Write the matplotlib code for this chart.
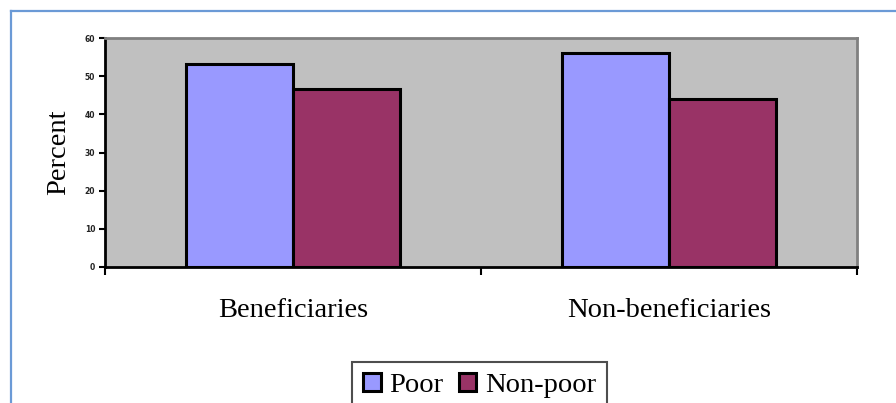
import matplotlib
matplotlib.use("Agg")
import matplotlib.pyplot as plt
from matplotlib.patches import Patch
from matplotlib.lines import Line2D
import numpy as np

categories = ["Beneficiaries", "Non-beneficiaries"]
series_names = ["Poor", "Non-poor"]
poor = [53.3, 56.0]
nonpoor = [46.7, 44.0]
yticks = [0, 10, 20, 30, 40, 50, 60]

colors = ["#9999FF", "#993366"]
W, H = 896, 403
fig = plt.figure(figsize=(W / 100, H / 100), dpi=100)
fig.patch.set_facecolor("white")

ax = fig.add_axes([105 / W, 1 - 267 / H, (857 - 105) / W, (267 - 38) / H])
ax.set_facecolor("#C0C0C0")

x = np.arange(len(categories))
bw = 1 / 3.5
ax.bar(x - bw / 2, poor, bw, color=colors[0], edgecolor="black", linewidth=2.2, zorder=3)
ax.bar(x + bw / 2, nonpoor, bw, color=colors[1], edgecolor="black", linewidth=2.2, zorder=3)

ax.set_xlim(-0.5, len(categories) - 0.5)
ax.set_ylim(0, 60)
ax.set_yticks(yticks)
ax.set_yticklabels([str(v) for v in yticks], fontsize=5.5, fontweight="bold",
                   family="DejaVu Sans", color="#222222")
ax.tick_params(axis="y", length=4, width=1.5, pad=3, direction="out")

ax.set_xticks(np.arange(len(categories) + 1) - 0.5)
ax.set_xticklabels([])
ax.tick_params(axis="x", which="major", length=6, width=1.5, direction="out")
ax.set_xticks(x, minor=True)
ax.set_xticklabels(categories, minor=True, fontsize=20.5, family="Liberation Serif")
ax.tick_params(axis="x", which="minor", length=0, pad=22)

for s in ["left", "bottom"]:
    ax.spines[s].set_color("black")
    ax.spines[s].set_linewidth(2)
for s in ["top", "right"]:
    ax.spines[s].set_color("#808080")
    ax.spines[s].set_linewidth(2)

ax.set_ylabel("Percent", fontsize=20.5, family="Liberation Serif", labelpad=10)

handles = [Patch(facecolor=c, edgecolor="black", linewidth=2.2) for c in colors]
leg = fig.legend(handles, series_names, loc="upper center",
                 bbox_to_anchor=(479.5 / W, 1 - 362 / H), ncol=2,
                 prop={"family": "Liberation Serif", "size": 20.5},
                 frameon=True, fancybox=False, edgecolor="#222222",
                 handlelength=0.62, handleheight=0.62, handletextpad=0.3,
                 columnspacing=0.55, borderpad=0.38, borderaxespad=0)
leg.get_frame().set_linewidth(1.5)

# blue outer frame
blue = "#6B9AD6"
fig.add_artist(Line2D([11 / W, 1.0], [1 - 11 / H, 1 - 11 / H], color=blue, lw=1.6,
                      transform=fig.transFigure))
fig.add_artist(Line2D([11 / W, 11 / W], [0, 1 - 11 / H], color=blue, lw=1.6,
                      transform=fig.transFigure))

fig.savefig("out.png", dpi=100)
